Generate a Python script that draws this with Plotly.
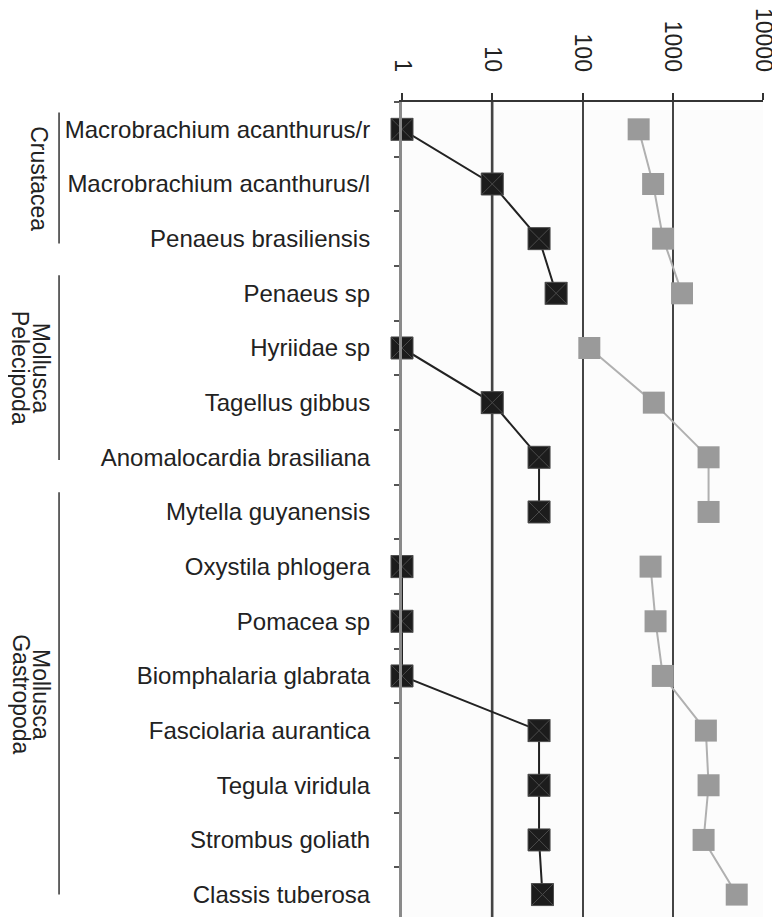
import plotly.graph_objects as go

species = [
    "Macrobrachium acanthurus/r",
    "Macrobrachium acanthurus/l",
    "Penaeus brasiliensis",
    "Penaeus sp",
    "Hyriidae sp",
    "Tagellus gibbus",
    "Anomalocardia brasiliana",
    "Mytella guyanensis",
    "Oxystila phlogera",
    "Pomacea sp",
    "Biomphalaria glabrata",
    "Fasciolaria aurantica",
    "Tegula viridula",
    "Strombus goliath",
    "Classis tuberosa",
]
dark_values = [1, 10, 33, 51, 1, 10, 33, 33, 1, 1, 1, 33, 33, 33, 36]
grey_values = [419, 606, 782, 1267, 119, 617, 2494, 2494, 568, 645, 776, 2328, 2494, 2197, 5115]
tick_vals = [1, 10, 100, 1000, 10000]
tick_text = ["1", "10", "100", "1000", "10000"]

# connected line segments (index ranges) as in the original figure
segments = [(0, 4), (4, 8), (8, 15)]

# group brackets: start/end in category units
brackets = [(-0.31, 2.09), (2.67, 6.05), (6.64, 14.0)]
# group label lines: text, centre (category units), column x (paper)
group_labels = [
    ("Crustacea", 0.91, -1.006),
    ("Mollusca", 4.36, -1.0),
    ("Pelecipoda", 4.36, -1.056),
    ("Mollusca", 10.33, -1.0),
    ("Gastropoda", 10.33, -1.056),
]

FONT = "Liberation Sans, Arial, sans-serif"
TXT = "#222222"

fig = go.Figure()
for a, b in segments:
    fig.add_trace(go.Scatter(
        x=grey_values[a:b], y=species[a:b], mode="lines+markers",
        line=dict(color="#b0b0b0", width=2),
        marker=dict(symbol="square", size=22, color="#9a9a9a", line=dict(width=0)),
        cliponaxis=False, showlegend=False,
    ))
for a, b in segments:
    fig.add_trace(go.Scatter(
        x=dark_values[a:b], y=species[a:b], mode="lines+markers",
        line=dict(color="#222222", width=2),
        marker=dict(symbol="square-x", size=22, color="#1c1c1c",
                    line=dict(color="#4a4a4a", width=1)),
        cliponaxis=False, showlegend=False,
    ))

for y0, y1 in brackets:
    fig.add_shape(type="line", xref="paper", yref="y", x0=-0.95, x1=-0.95, y0=y0, y1=y1,
                  line=dict(color="#333333", width=1.5))
for label, yc, xc in group_labels:
    fig.add_annotation(text=label, xref="paper", yref="y", x=xc, y=yc, textangle=90,
                       showarrow=False, xanchor="center", yanchor="middle",
                       borderpad=0,
                       font=dict(family=FONT, size=23, color=TXT))

# lighter reference line at 10
fig.add_shape(type="line", xref="x", yref="paper", x0=10, x1=10, y0=0, y1=1,
              line=dict(color="#8a8a8a", width=3), layer="below")

fig.update_layout(
    width=772, height=909,
    margin=dict(l=394, r=17, t=89, b=0),
    paper_bgcolor="white", plot_bgcolor="#fcfcfc",
    font=dict(family=FONT, size=24, color=TXT),
)
fig.update_xaxes(
    type="log", range=[0, 4], side="top",
    tickvals=tick_vals, ticktext=tick_text, tickangle=90,
    ticks="outside", ticklen=7, tickwidth=2, tickcolor="#333333",
    ticklabelstandoff=13,
    showline=True, linecolor="#333333", linewidth=2,
    showgrid=True, gridcolor="#444444", gridwidth=2,
    zeroline=False,
    tickfont=dict(family=FONT, size=23, color=TXT),
)
fig.update_yaxes(
    type="category", categoryorder="array", categoryarray=species,
    range=[14.41, -0.5],
    ticks="outside", tickson="boundaries", ticklen=5, tickwidth=1.5, tickcolor="#555555",
    showline=True, linecolor="#8a8a8a", linewidth=3,
    showgrid=False, zeroline=False,
    ticklabelstandoff=24,
    tickfont=dict(family=FONT, size=24, color=TXT),
)

fig.write_html("out.html")
